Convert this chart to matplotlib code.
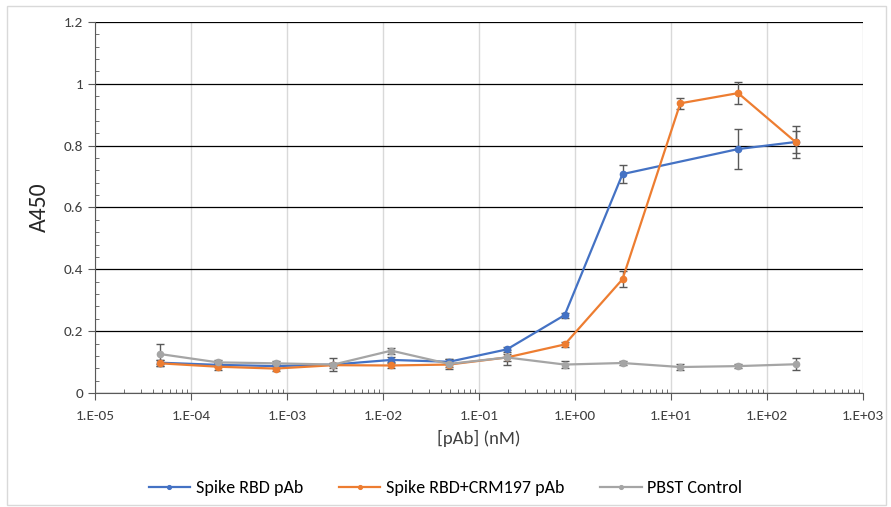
import numpy as np
import matplotlib
matplotlib.use("Agg")
import matplotlib.pyplot as plt
from matplotlib.ticker import FixedLocator, FuncFormatter, LogLocator, MultipleLocator
from matplotlib.patches import Rectangle
from matplotlib import font_manager

avail = {f.name for f in font_manager.fontManager.ttflist}
fams = [f for f in ['Carlito', 'Liberation Sans Narrow', 'Liberation Sans', 'DejaVu Sans'] if f in avail]
plt.rcParams['font.family'] = fams

conc = [4.77e-5, 1.91e-4, 7.63e-4, 3.05e-3, 1.22e-2, 4.88e-2, 0.195, 0.781, 3.125, 12.5, 50, 200]

rbd = [0.098, 0.091, 0.087, 0.092, 0.107, 0.101, 0.141, 0.252, 0.708, np.nan, 0.789, 0.812]
rbd_err = [0.010, 0.006, 0.006, 0.006, 0.008, 0.008, 0.008, 0.008, 0.030, np.nan, 0.065, 0.037]

crm = [0.096, 0.085, 0.079, 0.090, 0.089, 0.092, 0.115, 0.157, 0.368, 0.937, 0.970, 0.811]
crm_err = [0.010, 0.010, 0.008, 0.008, 0.008, 0.008, 0.010, 0.009, 0.026, 0.017, 0.035, 0.052]

pbst = [0.126, 0.099, 0.096, 0.092, 0.137, 0.094, 0.115, 0.092, 0.097, 0.084, 0.087, 0.093]
pbst_err = [0.032, 0.008, 0.008, 0.020, 0.010, 0.016, 0.024, 0.010, 0.006, 0.010, 0.006, 0.019]

labels = ["Spike RBD pAb", "Spike RBD+CRM197 pAb", "PBST Control"]
colors = ["#4472C4", "#ED7D31", "#A5A5A5"]

fig = plt.figure(figsize=(8.91, 5.07), dpi=100)
fig.patches.append(Rectangle((0.008, 0.004), 0.986, 0.985, transform=fig.transFigure,
                             fill=False, edgecolor="#d9d9d9", linewidth=1))
ax = fig.add_axes([95/891, 1-393/507, (863-95)/891, (393-22)/507])

x = np.array(conc)
handles = []
for ys, es, c, lab in [(rbd, rbd_err, colors[0], labels[0]),
                       (crm, crm_err, colors[1], labels[1]),
                       (pbst, pbst_err, colors[2], labels[2])]:
    y = np.array(ys); e = np.array(es)
    m = ~np.isnan(y)
    ax.errorbar(x[m], y[m], yerr=e[m], fmt='none', ecolor="#595959", elinewidth=1,
                capsize=3, capthick=1, zorder=3)
    h, = ax.plot(x[m], y[m], color=c, lw=1.6, marker='o', ms=4.5, zorder=4, label=lab)
    handles.append(h)

ax.set_xscale('log')
ax.set_xlim(1e-5, 1e3)
ax.set_ylim(0, 1.2)

ax.xaxis.set_major_locator(FixedLocator([10.0**k for k in range(-5, 4)]))
ax.xaxis.set_minor_locator(LogLocator(base=10, subs=np.arange(2, 10), numticks=20))
ax.xaxis.set_major_formatter(FuncFormatter(lambda v, p: "1.E%+03d" % int(round(np.log10(v)))))
ax.xaxis.set_minor_formatter(FuncFormatter(lambda v, p: ""))
ax.yaxis.set_major_locator(MultipleLocator(0.2))
ax.yaxis.set_minor_locator(MultipleLocator(0.04))
ax.yaxis.set_major_formatter(FuncFormatter(lambda v, p: "%g" % round(v, 2)))

ax.grid(True, which='major', axis='y', color='black', lw=0.9, zorder=0)
ax.grid(True, which='major', axis='x', color='#d9d9d9', lw=1, zorder=0)
ax.set_axisbelow(True)

for s in ['top', 'right']:
    ax.spines[s].set_visible(False)
ax.spines['left'].set_color('#595959')
ax.spines['bottom'].set_color('#595959')

ax.tick_params(axis='both', which='major', direction='out', length=5, color='#595959',
               labelsize=11, labelcolor='#404040')
ax.tick_params(axis='x', which='minor', direction='in', length=3, color='#595959')
ax.tick_params(axis='y', which='minor', direction='in', length=3, color='#595959')
ax.tick_params(axis='x', which='major', pad=7)

ax.set_xlabel("[pAb] (nM)", fontsize=13.5, color='#404040', labelpad=6)
ax.set_ylabel("A450", fontsize=17, color='#262626', labelpad=10)

fig.legend(handles=handles, labels=labels, loc='center', bbox_to_anchor=(0.5, 1-488/507),
           ncol=3, frameon=False, fontsize=13, handlelength=2.3, columnspacing=2.0,
           handletextpad=0.3, markerscale=0.6)

fig.savefig("out.png", dpi=100)
